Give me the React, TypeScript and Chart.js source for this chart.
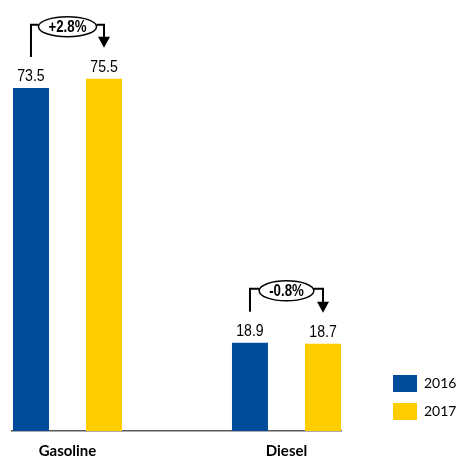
import React, { useEffect, useRef } from 'react';
import { Chart, registerables } from 'chart.js';

Chart.register(...registerables);

const categories = ['Gasoline', 'Diesel'];
const seriesLabels = ['2016', '2017'];
const values2016 = [73.5, 18.9];
const values2017 = [75.5, 18.7];
const changeLabels = ['+2.8%', '-0.8%'];
const seriesColors = ['#004C9B', '#FFCC00'];

const ARIAL = '"Liberation Sans", Arial, sans-serif';
const NARROW_SCALE = 0.83;

function narrowText(ctx: CanvasRenderingContext2D, text: string, x: number, y: number) {
  ctx.save();
  ctx.translate(x, y);
  ctx.scale(NARROW_SCALE, 1);
  ctx.fillText(text, 0, 0);
  ctx.restore();
}

const annotationPlugin = {
  id: 'annotations',
  afterDatasetsDraw(chart: any) {
    const ctx = chart.ctx as CanvasRenderingContext2D;
    const m0 = chart.getDatasetMeta(0);
    const m1 = chart.getDatasetMeta(1);
    ctx.save();
    // value labels
    ctx.fillStyle = '#000';
    ctx.font = '17px ' + ARIAL;
    ctx.textAlign = 'center';
    ctx.textBaseline = 'alphabetic';
    [m0, m1].forEach((meta: any, di: number) => {
      meta.data.forEach((bar: any, i: number) => {
        const v = chart.data.datasets[di].data[i].y;
        narrowText(ctx, v.toFixed(1), bar.x, bar.y - 7);
      });
    });
    // change brackets
    categories.forEach((_, i) => {
      const b0 = m0.data[i];
      const b1 = m1.data[i];
      const x0 = b0.x, x1 = b1.x;
      const yTop = Math.min(b0.y, b1.y) - 54;
      const cx = (x0 + x1) / 2;
      const cy = yTop + 2;
      ctx.font = 'bold 16px ' + ARIAL;
      const tw = ctx.measureText(changeLabels[i]).width * NARROW_SCALE;
      const rx = tw / 2 + 10;
      const ry = 10;
      ctx.strokeStyle = '#000';
      ctx.lineWidth = 2;
      ctx.beginPath();
      ctx.moveTo(x0, b0.y - 31);
      ctx.lineTo(x0, yTop);
      ctx.lineTo(cx - rx, yTop);
      ctx.moveTo(cx + rx, yTop);
      ctx.lineTo(x1, yTop);
      ctx.lineTo(x1, b1.y - 41);
      ctx.stroke();
      ctx.fillStyle = '#000';
      ctx.beginPath();
      ctx.moveTo(x1 - 6, b1.y - 42);
      ctx.lineTo(x1 + 6, b1.y - 42);
      ctx.lineTo(x1, b1.y - 31);
      ctx.closePath();
      ctx.fill();
      ctx.lineWidth = 1.5;
      ctx.fillStyle = '#fff';
      ctx.beginPath();
      ctx.ellipse(cx, cy, rx, ry, 0, 0, Math.PI * 2);
      ctx.fill();
      ctx.stroke();
      ctx.fillStyle = '#000';
      ctx.textBaseline = 'middle';
      narrowText(ctx, changeLabels[i], cx, cy + 1);
      ctx.textBaseline = 'alphabetic';
    });
    ctx.restore();
  },
};

export default function App() {
  const ref = useRef<HTMLCanvasElement>(null);
  useEffect(() => {
    document.body.style.margin = '0';
    const canvas = ref.current!;
    const chart = new Chart(canvas, {
      type: 'bar',
      data: {
        datasets: [
          {
            label: seriesLabels[0],
            data: values2016.map((y, i) => ({ x: i, y })),
            backgroundColor: seriesColors[0],
          },
          {
            label: seriesLabels[1],
            data: values2017.map((y, i) => ({ x: i, y })),
            backgroundColor: seriesColors[1],
          },
        ],
      },
      options: {
        animation: false,
        responsive: false,
        maintainAspectRatio: false,
        categoryPercentage: 0.667,
        barPercentage: 0.493,
        layout: { padding: { top: 11, left: 12, right: 0, bottom: 0 } },
        plugins: {
          tooltip: { enabled: false },
          legend: {
            position: 'right',
            align: 'end',
            fullSize: false,
            maxWidth: 78,
            labels: {
              boxWidth: 24,
              boxHeight: 17,
              padding: 11,
              color: '#000',
              font: { family: 'Lato, "Noto Sans", sans-serif', size: 14 },
            },
          },
        },
        scales: {
          x: {
            type: 'linear',
            offset: false,
            bounds: 'data',
            min: -0.2534,
            max: 1.2489,
            grid: { display: false, drawTicks: false, offset: false },
            border: { display: true, color: '#595959', width: 1.5 },
            afterBuildTicks: (s: any) => {
              s.ticks = categories.map((_, i) => ({ value: i }));
            },
            afterFit: (s: any) => {
              s.height = 28;
            },
            ticks: {
              padding: 12,
              color: '#000',
              autoSkip: false,
              maxRotation: 0,
              font: { family: 'Lato, "Noto Sans", sans-serif', size: 15, weight: 'bold', lineHeight: 1.07 },
              callback: (v: any) => categories[v] ?? '',
            },
          },
          y: {
            position: 'right',
            min: 0,
            max: 90,
            grid: { display: false, drawTicks: false },
            border: { display: false },
            ticks: { display: false },
            afterFit: (s: any) => {
              s.width = 41;
            },
          },
        },
      } as any,
      plugins: [annotationPlugin],
    });
    return () => chart.destroy();
  }, []);
  return (
    <canvas ref={ref} width={460} height={459} style={{ display: 'block', width: 460, height: 459 }} />
  );
}
